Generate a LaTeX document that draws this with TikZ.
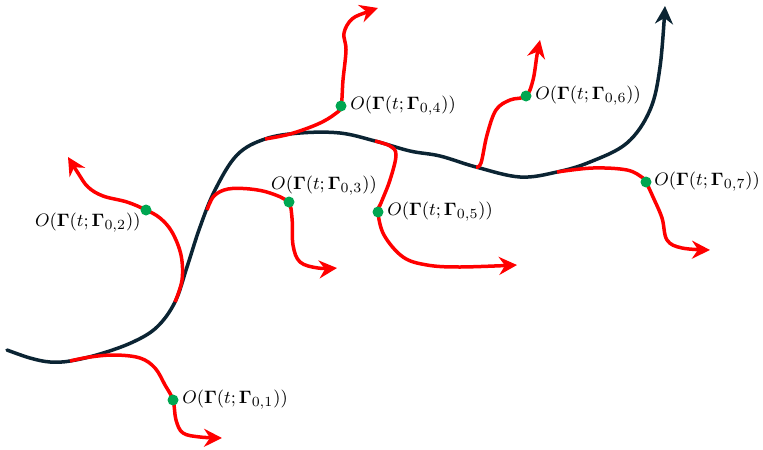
\documentclass[tikz,border=0pt]{standalone}
\usepackage{amsmath}
\usetikzlibrary{arrows.meta,positioning}
\definecolor{pathdark}{HTML}{0B2433}
\definecolor{pathred}{HTML}{FF0000}
\definecolor{dotgreen}{HTML}{00A651}
\tikzset{
  mainpath/.style={pathdark,line width=1.75pt,line cap=round,-{Stealth[length=9pt,width=9pt,inset=3pt]}},
  branch/.style={pathred,line width=1.75pt,-{Stealth[length=9pt,width=9pt,inset=3pt]}},
  gdot/.style={circle,fill=dotgreen,inner sep=0pt,minimum size=5.5pt},
  lab/.style={inner sep=0.5pt,font=\fontsize{9.3pt}{11pt}\selectfont}
}
\newcommand{\Olab}[1]{$O(\boldsymbol{\Gamma}(t;\boldsymbol{\Gamma}_{0,#1}))$}
\begin{document}
\begin{tikzpicture}[x=0.5pt,y=-0.5pt]
    \useasboundingbox (0,0) rectangle (763,449);
    % Reference trajectory
    \draw[mainpath] plot[smooth,tension=0.6] coordinates {(7,350) (30,358) (50,362) (70,361) (100,354) (133,342) (157,327) (175,302) (187,267) (200,227) (215,190) (237,155) (265,139) (300,133) (340,133) (375,141) (410,151) (440,156) (476,167) (520,177) (557,172) (590,162) (627,143) (650,110) (660,67) (665,6)};
    % Perturbed trajectories
    \draw[branch] plot[smooth,tension=0.6] coordinates {(70,361) (90,357) (115,355) (140,358) (155,368) (165,385) (173,400) (176,420) (183,433) (200,437) (222,438)};
    \draw[branch] plot[smooth,tension=0.6] coordinates {(175,302) (182,280) (181,255) (172,232) (160,218) (146,210) (127,202) (103,196) (88,187) (78,173) (68,157)};
    \draw[branch] plot[smooth,tension=0.6] coordinates {(207,210) (214,196) (228,189) (250,189) (270,193) (288,202) (292,218) (293,245) (300,262) (318,268) (337,268)};
    \draw[branch] plot[smooth,tension=0.6] coordinates {(265,139) (290,134) (318,124) (335,114) (341,106) (343,80) (346,50) (344,33) (352,19) (367,12) (378,8)};
    \draw[branch] plot[smooth,tension=0.6] coordinates {(375,141) (390,146) (396,155) (390,180) (381,203) (378,212) (384,235) (403,257) (427,265) (460,267) (517,265)};
    \draw[branch] plot[smooth,tension=0.6] coordinates {(476,167) (481,163) (487,135) (496,110) (510,100) (526,96) (533,80) (537,55) (540,40)};
    \draw[branch] plot[smooth,tension=0.6] coordinates {(557,172) (593,168) (627,170) (643,178) (646,182) (653,197) (662,218) (667,240) (682,248) (710,250)};
    % Observations
    \node[gdot] (d1) at (173,400) {};
    \node[gdot] (d2) at (146,210) {};
    \node[gdot] (d3) at (289,202) {};
    \node[gdot] (d4) at (341,106) {};
    \node[gdot] (d5) at (378,212) {};
    \node[gdot] (d6) at (526,96) {};
    \node[gdot] (d7) at (646,182) {};
    \node[lab,right=1pt of d1] (l1) {\Olab{1}};
    \node[lab,anchor=east] (l2) at (142,223) {\Olab{2}};
    \node[lab] (l3) at (324,186) {\Olab{3}};
    \node[lab,right=1pt of d4] (l4) {\Olab{4}};
    \node[lab,right=1pt of d5] (l5) {\Olab{5}};
    \node[lab,right=1pt of d6] (l6) {\Olab{6}};
    \node[lab,right=0.5pt of d7] (l7) {\Olab{7}};
\end{tikzpicture}
\end{document}
